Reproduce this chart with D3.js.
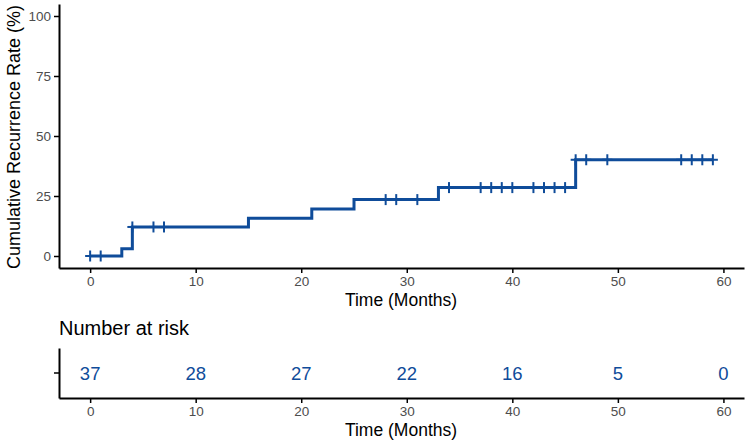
<!DOCTYPE html>
<html>
<head>
<meta charset="UTF-8">
<script src="https://cdn.jsdelivr.net/npm/d3@7"></script>
<style>
  body { margin: 0; background: #fff; }
  text { font-family: "Liberation Sans", Arial, sans-serif; }
  .tick text { fill: #4d4d4d; font-size: 13.5px; }
  .axis path, .axis line { stroke: #000; }
</style>
</head>
<body>
<script>
// curve: step times (months) and cumulative recurrence rate (%) after each step
var stepTimes = [0, 3, 4, 15, 21, 25, 33, 46];
var stepRates = [0, 3.0, 12.1, 15.7, 19.6, 23.5, 28.5, 40.1];
var lastTime = 59;
// censored observations
var censorTimes = [0, 1, 4, 6, 7, 28, 29, 31, 34, 37, 38, 39, 40, 42, 43, 44, 45, 46, 47, 49, 56, 57, 58, 59];
// axis ticks
var xTicks = [0, 10, 20, 30, 40, 50, 60];
var yTicks = [0, 25, 50, 75, 100];
// number at risk table
var riskTimes = [0, 10, 20, 30, 40, 50, 60];
var riskCounts = [37, 28, 27, 22, 16, 5, 0];

var blue = "#0f4c9a";
var W = 747, H = 443;

var svg = d3.select("body").append("svg")
  .attr("width", W)
  .attr("height", H);

var x = d3.scaleLinear().domain([-2.95, 61.95]).range([59, 744]);
var y = d3.scaleLinear().domain([-5, 105]).range([268, 4]);

// step data
var pts = stepTimes.map(function(t, i) { return [t, stepRates[i]]; });
pts.push([lastTime, stepRates[stepRates.length - 1]]);

function rateAt(t) {
  var r = 0;
  stepTimes.forEach(function(s, i) { if (s <= t) r = stepRates[i]; });
  return r;
}

var line = d3.line()
  .x(function(d) { return x(d[0]); })
  .y(function(d) { return y(d[1]); })
  .curve(d3.curveStepAfter);

svg.append("path")
  .datum(pts)
  .attr("d", line)
  .attr("fill", "none")
  .attr("stroke", blue)
  .attr("stroke-width", 3);

// censor marks "+"
var cens = svg.append("g").selectAll("g")
  .data(censorTimes)
  .enter().append("g")
  .attr("transform", function(d) { return "translate(" + x(d) + "," + y(rateAt(d)) + ")"; });
cens.append("line").attr("x1", 0).attr("x2", 0).attr("y1", -5.5).attr("y2", 5.5)
  .attr("stroke", blue).attr("stroke-width", 2);
cens.append("line").attr("x1", -5).attr("x2", 5).attr("y1", 0).attr("y2", 0)
  .attr("stroke", blue).attr("stroke-width", 2);

// axes main plot
var gx = svg.append("g")
  .attr("class", "axis")
  .attr("transform", "translate(0,268)")
  .call(d3.axisBottom(x).tickValues(xTicks).tickSize(5).tickPadding(3).tickSizeOuter(0));
var gy = svg.append("g")
  .attr("class", "axis")
  .attr("transform", "translate(59,0)")
  .call(d3.axisLeft(y).tickValues(yTicks).tickSize(5).tickPadding(3).tickSizeOuter(0));
[gx, gy].forEach(function(g) {
  g.select(".domain").attr("stroke-width", 2);
  g.selectAll(".tick line").attr("stroke-width", 1.5);
});

svg.append("text")
  .attr("x", 401).attr("y", 306)
  .attr("text-anchor", "middle")
  .style("font-size", "17.5px")
  .text("Time (Months)");

svg.append("text")
  .attr("transform", "translate(20,137) rotate(-90)")
  .attr("text-anchor", "middle")
  .style("font-size", "18px")
  .text("Cumulative Recurrence Rate (%)");

// risk table
svg.append("text")
  .attr("x", 59).attr("y", 335)
  .style("font-size", "20px")
  .text("Number at risk");

var ry = d3.scaleBand().domain(["s"]).range([398, 348]);

var rgx = svg.append("g")
  .attr("class", "axis")
  .attr("transform", "translate(0,398)")
  .call(d3.axisBottom(x).tickValues(xTicks).tickSize(5).tickPadding(3).tickSizeOuter(0));
var rgy = svg.append("g")
  .attr("class", "axis")
  .attr("transform", "translate(59,0)")
  .call(d3.axisLeft(ry).tickSize(5).tickFormat("").tickSizeOuter(0));
[rgx, rgy].forEach(function(g) {
  g.select(".domain").attr("stroke-width", 2);
  g.selectAll(".tick line").attr("stroke-width", 1.5);
});

svg.append("g").selectAll("text")
  .data(riskTimes)
  .enter().append("text")
  .attr("x", function(d) { return x(d); })
  .attr("y", ry("s") + ry.bandwidth() / 2)
  .attr("dy", "0.36em")
  .attr("text-anchor", "middle")
  .attr("fill", blue)
  .style("font-size", "18.5px")
  .text(function(d, i) { return riskCounts[i]; });

svg.append("text")
  .attr("x", 401).attr("y", 436)
  .attr("text-anchor", "middle")
  .style("font-size", "17.5px")
  .text("Time (Months)");
</script>
</body>
</html>
